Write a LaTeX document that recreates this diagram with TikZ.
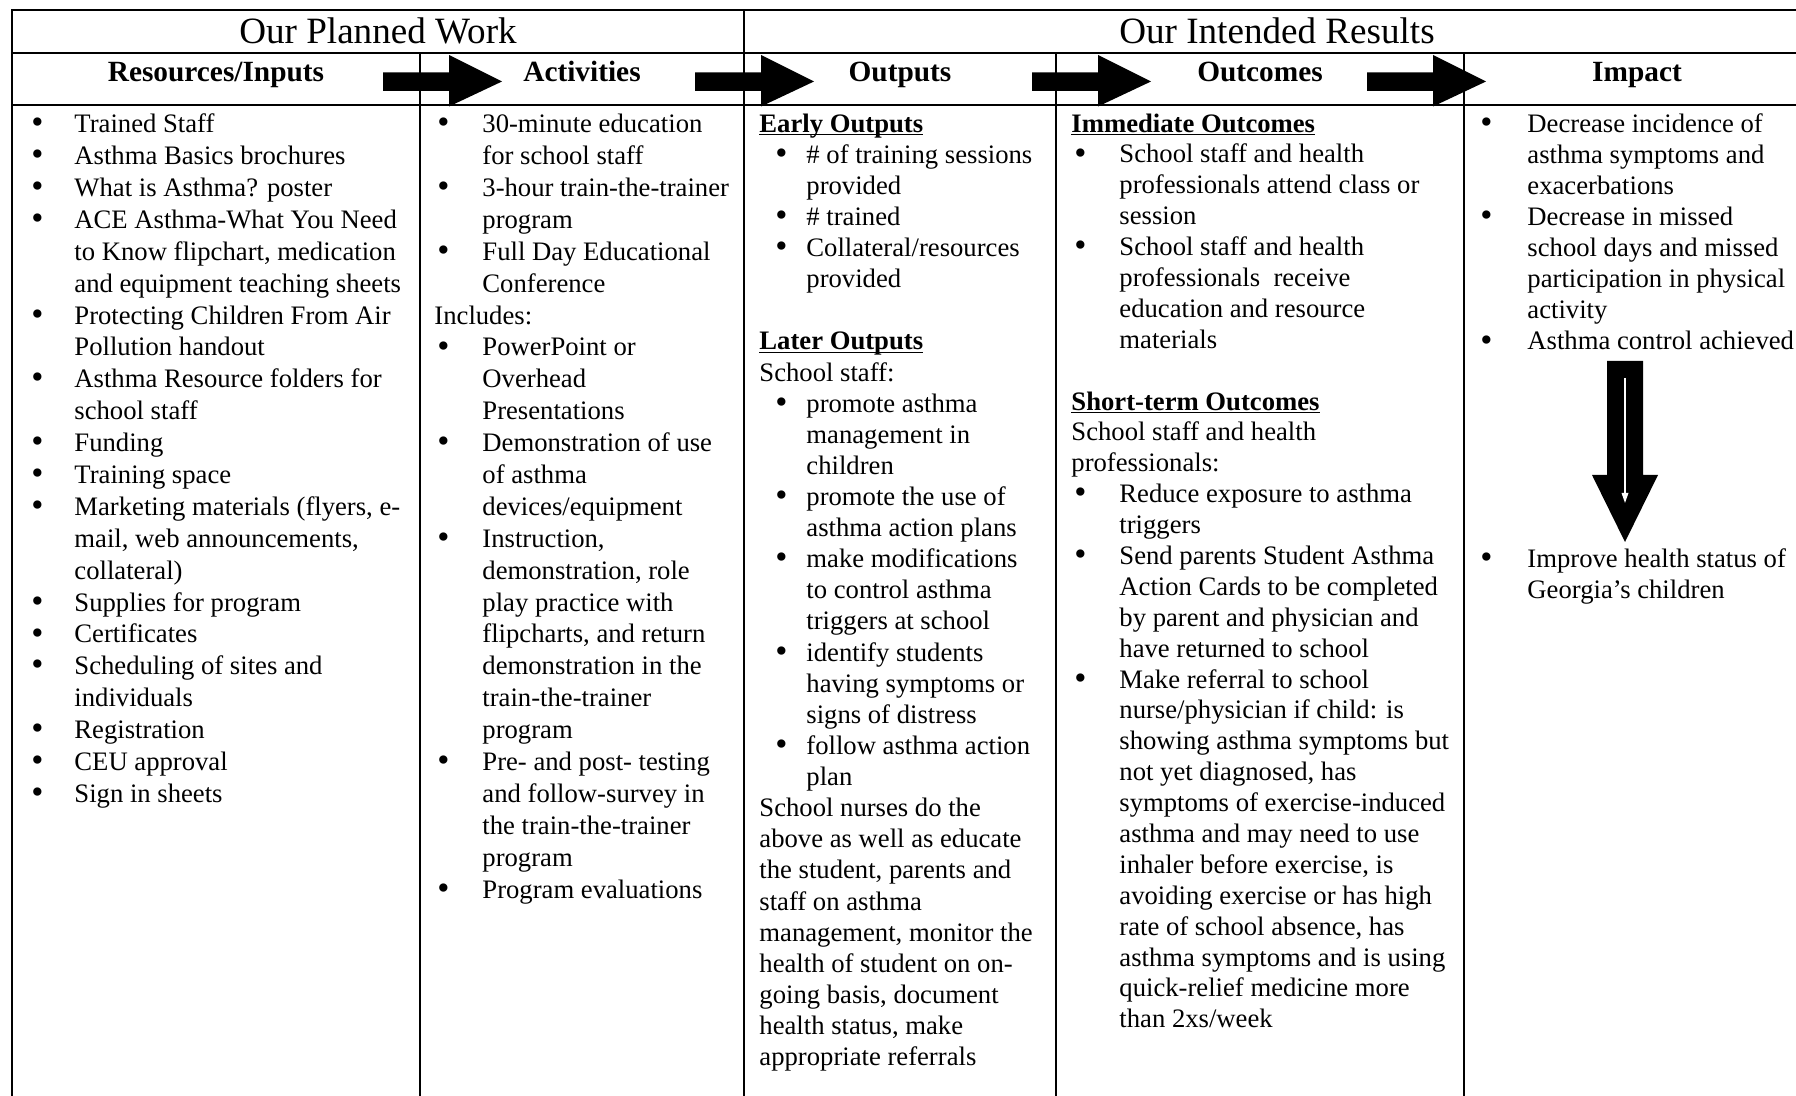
\documentclass[tikz,border=0pt]{standalone}
\usepackage{fontspec}
\setmainfont{Liberation Serif}
\usepackage{array}
\usetikzlibrary{arrows.meta}

\newlength\px
\setlength\px{0.45pt}

\tikzset{
  rule/.style={line width=0.8pt},
  colbox/.style={anchor=north west, inner sep=0pt, font=\fontsize{12}{#1}\selectfont},
  colbox/.default=14.1pt,
  toptxt/.style={anchor=base, inner sep=0pt, font=\fontsize{16.7}{20}\selectfont},
  subtxt/.style={anchor=base, inner sep=0pt, font=\fontsize{13.2}{15}\selectfont\bfseries},
}
\newcommand\uhead[1]{\setbox0\hbox{\textbf{#1}}\rlap{\rule[-1.4pt]{\wd0}{0.7pt}}\box0}
\newcommand\dotmark{\raisebox{-0.5pt}{\scalebox{1.3}{\textbullet}}}

\begin{document}
\begin{tikzpicture}[x=0.45pt, y=-0.45pt]
    \useasboundingbox (0,0) rectangle (1796,1096);

    % table rules
    \draw[rule] (12,1096) -- (12,10) -- (1796,10);
    \draw[rule] (12,53) -- (1796,53);
    \draw[rule] (12,105) -- (1796,105);
    \draw[rule] (744,10) -- (744,1096);
    \foreach \cx in {420,1056,1464}
      \draw[rule] (\cx,53) -- (\cx,1096);

    % titles
    \node[toptxt] (planned) at (378,44) {Our Planned Work};
    \node[toptxt] (intended) at (1277,44) {Our Intended Results};

    \node[subtxt] (hinputs) at (216,81.5) {Resources/Inputs};
    \node[subtxt] (hactiv) at (582,81.5) {Activities};
    \node[subtxt] (houtputs) at (900,81.5) {Outputs};
    \node[subtxt] (houtcomes) at (1260,81.5) {Outcomes};
    \node[subtxt] (himpact) at (1637,81.5) {Impact};

    % block arrows between the headings
    \foreach \ax in {383,695,1032,1367}
      \fill (\ax,72.5) -- ++(66,0) -- ++(0,-17.5) -- ++(53,26.5) -- ++(-53,25) -- ++(0,-15.5) -- ++(-66,0) -- cycle;

    % columns
    \node[colbox=14.35pt] (inputs) at (26,110) {\begin{tabular}{@{\hspace{5\px}}p{43\px}@{}l@{}}
      \dotmark & Trained Staff\\
      \dotmark & Asthma Basics brochures\\
      \dotmark & What is Asthma? poster\\
      \dotmark & ACE Asthma-What You Need\\
               & to Know flipchart, medication\\
               & and equipment teaching sheets\\
      \dotmark & Protecting Children From Air\\
               & Pollution handout\\
      \dotmark & Asthma Resource folders for\\
               & school staff\\
      \dotmark & Funding\\
      \dotmark & Training space\\
      \dotmark & Marketing materials (flyers, e-\\
               & mail, web announcements,\\
               & collateral)\\
      \dotmark & Supplies for program\\
      \dotmark & Certificates\\
      \dotmark & Scheduling of sites and\\
               & individuals\\
      \dotmark & Registration\\
      \dotmark & CEU approval\\
      \dotmark & Sign in sheets
    \end{tabular}};

    \node[colbox=14.35pt] (activ) at (434,110) {\begin{tabular}{@{\hspace{3\px}}p{45\px}@{}l@{}}
      \dotmark & 30-minute education\\
               & for school staff\\
      \dotmark & 3-hour train-the-trainer\\
               & program\\
      \dotmark & Full Day Educational\\
               & Conference\\
      \multicolumn{2}{@{}l@{}}{Includes:}\\
      \dotmark & PowerPoint or\\
               & Overhead\\
               & Presentations\\
      \dotmark & Demonstration of use\\
               & of asthma\\
               & devices/equipment\\
      \dotmark & Instruction,\\
               & demonstration, role\\
               & play practice with\\
               & flipcharts, and return\\
               & demonstration in the\\
               & train-the-trainer\\
               & program\\
      \dotmark & Pre- and post- testing\\
               & and follow-survey in\\
               & the train-the-trainer\\
               & program\\
      \dotmark & Program evaluations
    \end{tabular}};

    \node[colbox=14.0pt] (outputs) at (759,110) {\begin{tabular}{@{\hspace{16\px}}p{31\px}@{}l@{}}
      \multicolumn{2}{@{}l@{}}{\uhead{Early Outputs}}\\
      \dotmark & \# of training sessions\\
               & provided\\
      \dotmark & \# trained\\
      \dotmark & Collateral/resources\\
               & provided\\
               & \\
      \multicolumn{2}{@{}l@{}}{\uhead{Later Outputs}}\\
      \multicolumn{2}{@{}l@{}}{School staff:}\\
      \dotmark & promote asthma\\
               & management in\\
               & children\\
      \dotmark & promote the use of\\
               & asthma action plans\\
      \dotmark & make modifications\\
               & to control asthma\\
               & triggers at school\\
      \dotmark & identify students\\
               & having symptoms or\\
               & signs of distress\\
      \dotmark & follow asthma action\\
               & plan\\
      \multicolumn{2}{@{}l@{}}{School nurses do the}\\
      \multicolumn{2}{@{}l@{}}{above as well as educate}\\
      \multicolumn{2}{@{}l@{}}{the student, parents and}\\
      \multicolumn{2}{@{}l@{}}{staff on asthma}\\
      \multicolumn{2}{@{}l@{}}{management, monitor the}\\
      \multicolumn{2}{@{}l@{}}{health of student on on-}\\
      \multicolumn{2}{@{}l@{}}{going basis, document}\\
      \multicolumn{2}{@{}l@{}}{health status, make}\\
      \multicolumn{2}{@{}l@{}}{appropriate referrals}
    \end{tabular}};

    \node[colbox=13.9pt] (outcomes) at (1071,110) {\begin{tabular}{@{\hspace{3\px}}p{45\px}@{}l@{}}
      \multicolumn{2}{@{}l@{}}{\uhead{Immediate Outcomes}}\\
      \dotmark & School staff and health\\
               & professionals attend class or\\
               & session\\
      \dotmark & School staff and health\\
               & professionals\ \ receive\\
               & education and resource\\
               & materials\\
               & \\
      \multicolumn{2}{@{}l@{}}{\uhead{Short-term Outcomes}}\\
      \multicolumn{2}{@{}l@{}}{School staff and health}\\
      \multicolumn{2}{@{}l@{}}{professionals:}\\
      \dotmark & Reduce exposure to asthma\\
               & triggers\\
      \dotmark & Send parents Student Asthma\\
               & Action Cards to be completed\\
               & by parent and physician and\\
               & have returned to school\\
      \dotmark & Make referral to school\\
               & nurse/physician if child: is\\
               & showing asthma symptoms but\\
               & not yet diagnosed, has\\
               & symptoms of exercise-induced\\
               & asthma and may need to use\\
               & inhaler before exercise, is\\
               & avoiding exercise or has high\\
               & rate of school absence, has\\
               & asthma symptoms and is using\\
               & quick-relief medicine more\\
               & than 2xs/week
    \end{tabular}};

    \node[colbox=14.0pt] (impact) at (1480,110) {\begin{tabular}{@{}p{47\px}@{}l@{}}
      \dotmark & Decrease incidence of\\
               & asthma symptoms and\\
               & exacerbations\\
      \dotmark & Decrease in missed\\
               & school days and missed\\
               & participation in physical\\
               & activity\\
      \dotmark & Asthma control achieved\\
               & \\
               & \\
               & \\
               & \\
               & \\
               & \\
      \dotmark & Improve health status of\\
               & Georgia’s children
    \end{tabular}};

    % down arrow in the impact column
    \fill (1607,361) -- (1643,361) -- (1643,475) -- (1658,475) -- (1625,542) -- (1592,475) -- (1607,475) -- cycle;
    \draw[white, line width=0.5pt, -{Triangle[length=4.5pt, width=3pt]}] (1625,378) -- (1625,503);
\end{tikzpicture}
\end{document}
